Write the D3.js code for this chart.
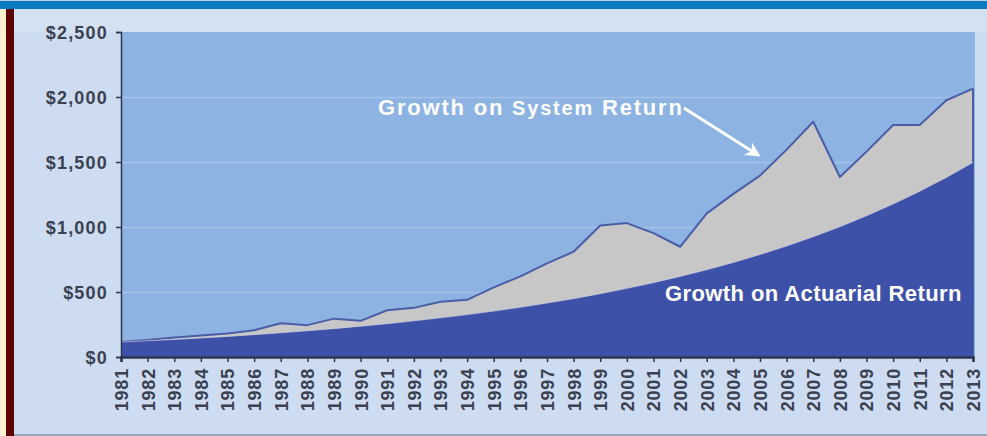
<!DOCTYPE html>
<html>
<head>
<meta charset="utf-8">
<script src="https://cdn.jsdelivr.net/npm/d3@7"></script>
<style>
  html, body { margin: 0; padding: 0; background: #cddcf0; }
  svg { display: block; }
  text { font-family: "Liberation Sans", Arial, sans-serif; }
</style>
</head>
<body>
<svg id="chart" width="987" height="436"></svg>
<script>
// Growth of $100 invested in 1981: system return vs. actuarial return
const years = [1981,1982,1983,1984,1985,1986,1987,1988,1989,1990,1991,1992,1993,1994,1995,1996,1997,
               1998,1999,2000,2001,2002,2003,2004,2005,2006,2007,2008,2009,2010,2011,2012,2013];
const systemValues = [115,130,150,165,180,205,260,245,295,278,360,378,425,440,535,620,720,
                      810,1012,1030,953,848,1105,1255,1395,1595,1810,1385,1580,1785,1785,1975,2065];
const actuarialValues = [115,125,135,146,158,172,186,202,218,237,256,278,301,326,353,383,415,
                         449,487,528,572,620,671,727,788,854,925,1002,1086,1177,1275,1381,1497];
const yTicks = [0,500,1000,1500,2000,2500];
const systemLabel = ["Growth on ", "System", " Return"];
const actuarialLabel = "Growth on Actuarial Return";

const svg = d3.select("#chart");
const W = 987, H = 436;
const plot = { left: 121, right: 973, top: 32, bottom: 357 };

// page frame
svg.append("rect").attr("x", 0).attr("y", 0).attr("width", W).attr("height", H).attr("fill", "#cddcf0");
svg.append("rect").attr("x", 14).attr("y", 9).attr("width", W - 14).attr("height", 24).attr("fill", "#d3e1f3");
svg.append("rect").attr("x", 0).attr("y", 0).attr("width", W).attr("height", 1).attr("fill", "#b9d3ee");
svg.append("rect").attr("x", 0).attr("y", 1).attr("width", W).attr("height", 8).attr("fill", "#0a79bf");
svg.append("rect").attr("x", 0).attr("y", 9).attr("width", 6).attr("height", H - 9).attr("fill", "#fdefcf");
svg.append("rect").attr("x", 6).attr("y", 9).attr("width", 8).attr("height", H - 9).attr("fill", "#5c0202");
svg.append("rect").attr("x", 14).attr("y", 434).attr("width", W - 14).attr("height", 2).attr("fill", "#9aa6b6");

const x = d3.scalePoint().domain(years).range([plot.left, plot.right]);
const y = d3.scaleLinear().domain([0, 2500]).range([plot.bottom, plot.top]);

// plot background
svg.append("rect")
  .attr("x", plot.left).attr("y", plot.top)
  .attr("width", plot.right - plot.left + 2).attr("height", plot.bottom - plot.top)
  .attr("fill", "#8db3e2");

// gridlines
svg.append("g").selectAll("line")
  .data(yTicks.filter(d => d > 0 && d < 2500))
  .join("line")
  .attr("x1", plot.left).attr("x2", plot.right + 2)
  .attr("y1", d => y(d) + 0.5).attr("y2", d => y(d) + 0.5)
  .attr("stroke", "#a3c2ea").attr("stroke-width", 1.5);

const sysData = years.map((yr, i) => ({ yr, v: systemValues[i] }));
const actData = years.map((yr, i) => ({ yr, v: actuarialValues[i] }));

const area = d3.area().x(d => x(d.yr)).y0(y(0)).y1(d => y(d.v));
const line = d3.line().x(d => x(d.yr)).y(d => y(d.v));

svg.append("path").datum(sysData).attr("d", area).attr("fill", "#c8c7c8");
svg.append("path").datum(sysData).attr("d", line)
  .attr("fill", "none").attr("stroke", "#4a5da7").attr("stroke-width", 2).attr("stroke-linejoin", "round");
// closing edge of system area
svg.append("line")
  .attr("x1", x(2013)).attr("x2", x(2013))
  .attr("y1", y(systemValues[systemValues.length - 1])).attr("y2", y(0))
  .attr("stroke", "#4a5da7").attr("stroke-width", 2);

svg.append("path").datum(actData).attr("d", area).attr("fill", "#3e51a9");
svg.append("path").datum(actData).attr("d", line)
  .attr("fill", "none").attr("stroke", "#d4d6e2").attr("stroke-width", 1).attr("opacity", 0.6);

// axes
const yAxis = d3.axisLeft(y).tickValues(yTicks).tickFormat(d3.format("$,.0f")).tickSize(5).tickPadding(8);
const gy = svg.append("g").attr("transform", `translate(${plot.left},0)`).call(yAxis);
gy.select(".domain").attr("stroke", "#2c3550").attr("stroke-width", 1.5);
gy.selectAll(".tick line").attr("stroke", "#2c3550").attr("stroke-width", 1.5);
gy.selectAll(".tick text")
  .attr("fill", "#3a4150").attr("font-size", 18).attr("font-weight", "bold")
  .attr("letter-spacing", 1.2).attr("dy", "0.36em")
  .attr("font-family", "'Liberation Sans', Arial, sans-serif");

const xAxis = d3.axisBottom(x).tickSize(5).tickPadding(6);
const gx = svg.append("g").attr("transform", `translate(0,${plot.bottom})`).call(xAxis);
gx.select(".domain").attr("stroke", "#2c3550").attr("stroke-width", 2.5);
gx.selectAll(".tick line").attr("stroke", "#2c3550").attr("stroke-width", 1.5);
gx.selectAll(".tick text")
  .attr("fill", "#3a4150").attr("font-size", 18).attr("font-weight", "bold")
  .attr("letter-spacing", 0.8)
  .attr("font-family", "'Liberation Sans', Arial, sans-serif")
  .attr("text-anchor", "end")
  .attr("transform", "rotate(-90)")
  .attr("x", -11).attr("y", 0).attr("dy", "0.36em");

// annotations
svg.append("defs").append("marker")
  .attr("id", "arrowhead").attr("viewBox", "0 0 10 10")
  .attr("refX", 8).attr("refY", 5).attr("markerWidth", 5).attr("markerHeight", 5)
  .attr("orient", "auto")
  .append("path").attr("d", "M0,0 L10,5 L0,10 L3,5 Z").attr("fill", "#ffffff");

const sysText = svg.append("text")
  .attr("x", 378).attr("y", 115)
  .attr("fill", "#ffffff").attr("font-weight", "bold")
  .attr("letter-spacing", 1.8);
sysText.selectAll("tspan")
  .data(systemLabel)
  .join("tspan")
  .attr("font-size", (d, i) => i === 1 ? 20 : 22)
  .text(d => d);

svg.append("line")
  .attr("x1", 684).attr("y1", 108).attr("x2", 758).attr("y2", 155)
  .attr("stroke", "#ffffff").attr("stroke-width", 3)
  .attr("marker-end", "url(#arrowhead)");

svg.append("text")
  .attr("x", 665).attr("y", 301)
  .attr("fill", "#ffffff").attr("font-size", 22).attr("font-weight", "bold")
  .attr("letter-spacing", 0.4)
  .text(actuarialLabel);
</script>
</body>
</html>
